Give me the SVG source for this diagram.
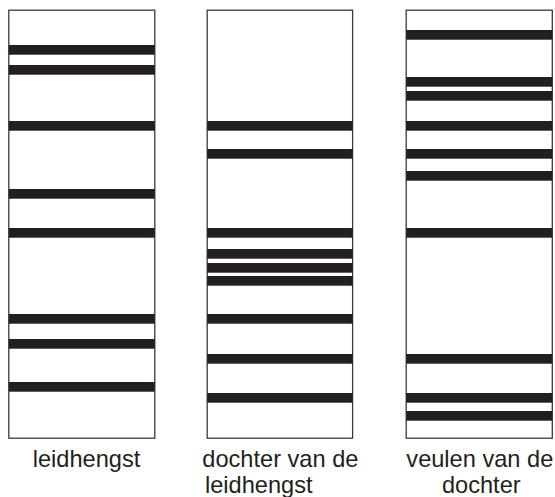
<svg xmlns="http://www.w3.org/2000/svg" width="555" height="497" viewBox="0 0 555 497">
<style>
.box{fill:#fff;stroke:#3a3a3a;stroke-width:1.3}
.band{fill:#231f20}
.lbl{font-family:"Liberation Sans",Arial,sans-serif;font-size:23.6px;fill:#231f20}
</style>
<rect width="555" height="497" fill="#fff"/>
<g id="leidhengst">
<rect class="box" x="8.8" y="10.2" width="146" height="428"/>
<rect class="band" x="8.8" y="45" width="146" height="9.7"/>
<rect class="band" x="8.8" y="65" width="146" height="9.7"/>
<rect class="band" x="8.8" y="121" width="146" height="9.7"/>
<rect class="band" x="8.8" y="189" width="146" height="9.7"/>
<rect class="band" x="8.8" y="228" width="146" height="9.7"/>
<rect class="band" x="8.8" y="314" width="146" height="9.7"/>
<rect class="band" x="8.8" y="339" width="146" height="9.7"/>
<rect class="band" x="8.8" y="382" width="146" height="9.7"/>
<text class="lbl" x="32.7" y="467.3">leidhengst</text>
</g>
<g id="dochter">
<rect class="box" x="207.2" y="10.2" width="145.4" height="428"/>
<rect class="band" x="207.2" y="121" width="145.4" height="9.7"/>
<rect class="band" x="207.2" y="149" width="145.4" height="9.7"/>
<rect class="band" x="207.2" y="228" width="145.4" height="9.7"/>
<rect class="band" x="207.2" y="249" width="145.4" height="9.7"/>
<rect class="band" x="207.2" y="263" width="145.4" height="9.7"/>
<rect class="band" x="207.2" y="276" width="145.4" height="9.7"/>
<rect class="band" x="207.2" y="314" width="145.4" height="9.7"/>
<rect class="band" x="207.2" y="354" width="145.4" height="9.7"/>
<rect class="band" x="207.2" y="393" width="145.4" height="9.7"/>
<text class="lbl" x="202.3" y="467.3">dochter van de</text>
<text class="lbl" x="205" y="492.7">leidhengst</text>
</g>
<g id="veulen">
<rect class="box" x="406.2" y="10.2" width="146.1" height="428"/>
<rect class="band" x="406.2" y="30" width="146.1" height="9.7"/>
<rect class="band" x="406.2" y="77" width="146.1" height="9.7"/>
<rect class="band" x="406.2" y="91" width="146.1" height="9.7"/>
<rect class="band" x="406.2" y="121" width="146.1" height="9.7"/>
<rect class="band" x="406.2" y="149" width="146.1" height="9.7"/>
<rect class="band" x="406.2" y="171" width="146.1" height="9.7"/>
<rect class="band" x="406.2" y="228" width="146.1" height="9.7"/>
<rect class="band" x="406.2" y="354" width="146.1" height="9.7"/>
<rect class="band" x="406.2" y="393" width="146.1" height="9.7"/>
<rect class="band" x="406.2" y="411" width="146.1" height="9.7"/>
<text class="lbl" x="479.8" y="467.3" text-anchor="middle">veulen van de</text>
<text class="lbl" x="481.3" y="492.7" text-anchor="middle">dochter</text>
</g>
<g id="connectors"/>
</svg>
